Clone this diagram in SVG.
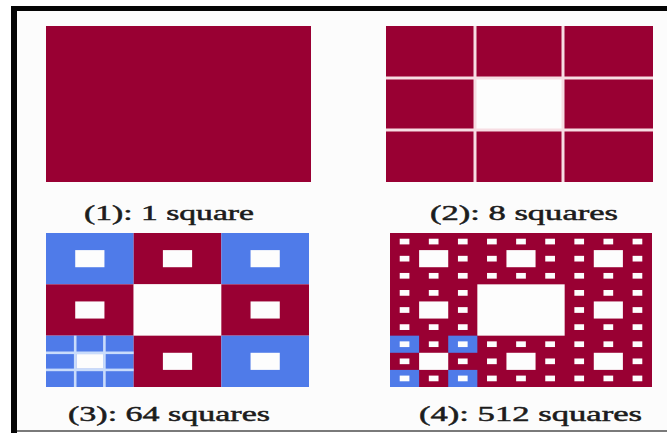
<svg xmlns="http://www.w3.org/2000/svg" width="667" height="433" viewBox="0 0 667 433">
  <defs>
    <style>
      .red { fill: #990033; }
      .blue { fill: #4f7be9; }
      .hole { fill: #fdfdfd; }
      .gap { fill: #f7dde3; }
      .bline { fill: #c9dcfb; }
      .lbl { font-family: "Liberation Serif", "Times New Roman", serif; font-size: 22px; fill: #1c1c1c; stroke: #1c1c1c; stroke-width: 0.5px; }
    </style>
    <pattern id="carpet3" patternUnits="userSpaceOnUse" x="390" y="233" width="29.111" height="17.111">
      <rect x="0" y="0" width="29.111" height="17.111" class="red"/>
      <rect x="9.704" y="5.704" width="9.704" height="5.704" class="hole"/>
    </pattern>
  </defs>

  <!-- background and frame -->
  <rect x="0" y="0" width="667" height="433" fill="#ffffff"/>
  <rect x="17" y="11" width="650" height="419" fill="#fcfcfc"/>
  <rect x="11" y="6" width="656" height="5" fill="#050505"/>
  <rect x="11" y="6" width="6" height="427" fill="#050505"/>
  <rect x="17" y="430" width="650" height="2" fill="#7a7a7a"/>

  <!-- Panel 1 -->
  <g id="panel1">
    <rect x="46" y="26" width="265" height="156" class="red"/>
    <text class="lbl" x="84" y="220" textLength="170" lengthAdjust="spacingAndGlyphs">(1): 1 square</text>
  </g>

  <!-- Panel 2 -->
  <g id="panel2">
    <rect x="386" y="26" width="267" height="156" class="gap"/>
    <rect x="386" y="26" width="87.5" height="50.5" class="red"/>
    <rect x="476.5" y="26" width="85" height="50.5" class="red"/>
    <rect x="564.5" y="26" width="88.5" height="50.5" class="red"/>
    <rect x="386" y="79.5" width="87.5" height="49" class="red"/>
    <rect x="476.5" y="79.5" width="85" height="49" class="hole"/>
    <rect x="564.5" y="79.5" width="88.5" height="49" class="red"/>
    <rect x="386" y="131.5" width="87.5" height="50.5" class="red"/>
    <rect x="476.5" y="131.5" width="85" height="50.5" class="red"/>
    <rect x="564.5" y="131.5" width="88.5" height="50.5" class="red"/>
    <text class="lbl" x="430" y="220" textLength="188" lengthAdjust="spacingAndGlyphs">(2): 8 squares</text>
  </g>

  <!-- Panel 3 -->
  <g id="panel3">
    <rect x="46" y="233" width="87.67" height="51.33" class="blue"/>
    <rect x="133.67" y="233" width="87.67" height="51.33" class="red"/>
    <rect x="221.33" y="233" width="87.67" height="51.33" class="blue"/>
    <rect x="46" y="284.33" width="87.67" height="51.33" class="red"/>
    <rect x="133.67" y="284.33" width="87.67" height="51.33" class="hole"/>
    <rect x="221.33" y="284.33" width="87.67" height="51.33" class="red"/>
    <rect x="46" y="335.67" width="87.67" height="51.33" class="blue"/>
    <rect x="133.67" y="335.67" width="87.67" height="51.33" class="red"/>
    <rect x="221.33" y="335.67" width="87.67" height="51.33" class="blue"/>
    <!-- holes -->
    <rect x="75.22" y="250.11" width="29.22" height="17.11" class="hole"/>
    <rect x="162.89" y="250.11" width="29.22" height="17.11" class="hole"/>
    <rect x="250.55" y="250.11" width="29.22" height="17.11" class="hole"/>
    <rect x="75.22" y="301.44" width="29.22" height="17.11" class="hole"/>
    <rect x="250.55" y="301.44" width="29.22" height="17.11" class="hole"/>
    <rect x="162.89" y="352.78" width="29.22" height="17.11" class="hole"/>
    <rect x="250.55" y="352.78" width="29.22" height="17.11" class="hole"/>
    <!-- subdivided bottom-left block -->
    <rect x="73.9" y="335.67" width="2.6" height="51.33" class="bline"/>
    <rect x="103.1" y="335.67" width="2.6" height="51.33" class="bline"/>
    <rect x="46" y="351.5" width="87.67" height="2.6" class="bline"/>
    <rect x="46" y="368.6" width="87.67" height="2.6" class="bline"/>
    <rect x="76.5" y="354.1" width="26.6" height="14.5" class="hole"/>
    <text class="lbl" x="68" y="421" textLength="202" lengthAdjust="spacingAndGlyphs">(3): 64 squares</text>
  </g>

  <!-- Panel 4 -->
  <g id="panel4">
    <rect x="390" y="233" width="262" height="154" fill="url(#carpet3)"/>
    <!-- level-2 holes -->
    <rect x="419.111" y="250.111" width="29.111" height="17.111" class="hole"/>
    <rect x="506.444" y="250.111" width="29.111" height="17.111" class="hole"/>
    <rect x="593.778" y="250.111" width="29.111" height="17.111" class="hole"/>
    <rect x="419.111" y="301.444" width="29.111" height="17.111" class="hole"/>
    <rect x="593.778" y="301.444" width="29.111" height="17.111" class="hole"/>
    <rect x="419.111" y="352.778" width="29.111" height="17.111" class="hole"/>
    <rect x="506.444" y="352.778" width="29.111" height="17.111" class="hole"/>
    <rect x="593.778" y="352.778" width="29.111" height="17.111" class="hole"/>
    <!-- level-1 hole -->
    <rect x="477.333" y="284.333" width="87.333" height="51.333" class="hole"/>
    <!-- blue corner cells of bottom-left block -->
    <rect x="390" y="335.667" width="29.111" height="17.111" class="blue"/>
    <rect x="448.222" y="335.667" width="29.111" height="17.111" class="blue"/>
    <rect x="390" y="369.889" width="29.111" height="17.111" class="blue"/>
    <rect x="448.222" y="369.889" width="29.111" height="17.111" class="blue"/>
    <rect x="399.704" y="341.37" width="9.704" height="5.704" class="hole"/>
    <rect x="457.926" y="341.37" width="9.704" height="5.704" class="hole"/>
    <rect x="399.704" y="375.593" width="9.704" height="5.704" class="hole"/>
    <rect x="457.926" y="375.593" width="9.704" height="5.704" class="hole"/>
    <text class="lbl" x="419" y="421" textLength="223" lengthAdjust="spacingAndGlyphs">(4): 512 squares</text>
  </g>
</svg>
